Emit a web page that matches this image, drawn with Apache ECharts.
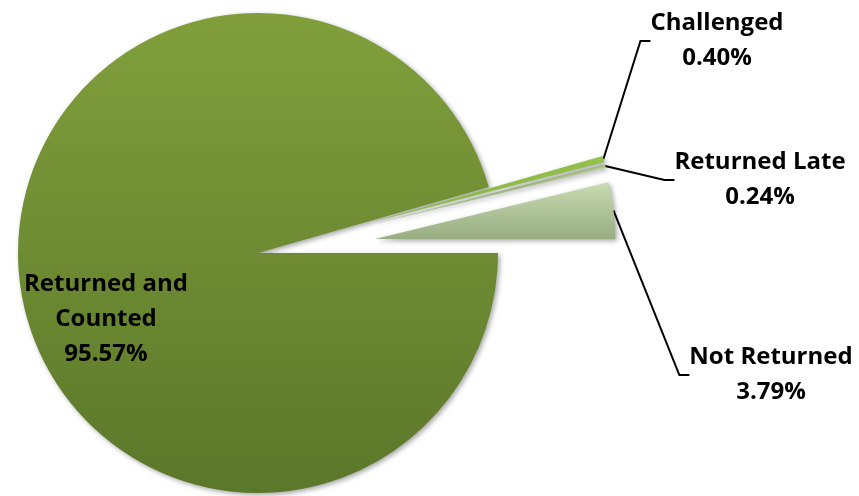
<!DOCTYPE html>
<html><head><meta charset="utf-8">
<script src="https://cdn.jsdelivr.net/npm/echarts@6/dist/echarts.min.js"></script>
<style>html,body{margin:0;padding:0;background:#fff}#c{width:859px;height:496px}</style>
</head><body><div id="c"></div>
<script>
var categories = ['Not Returned', 'Returned Late', 'Challenged', 'Returned and Counted'];
var values = [3.79, 0.24, 0.40, 95.57];
var exploded = [true, true, true, false];

var fills = [
  {type:'linear',x:0,y:0,x2:0,y2:1,colorStops:[{offset:0,color:'#c9dbb0'},{offset:1,color:'#98ad82'}]},
  {type:'linear',x:0,y:0,x2:0,y2:1,colorStops:[{offset:0,color:'#bcd69a'},{offset:1,color:'#a6c484'}]},
  {type:'linear',x:0,y:0,x2:0,y2:1,colorStops:[{offset:0,color:'#93c14a'},{offset:1,color:'#86b442'}]},
  {type:'linear',x:0,y:0,x2:0,y2:1,colorStops:[{offset:0,color:'#809f3b'},{offset:1,color:'#5b772a'}]}
];
var labelPos = [[771,375],[760,180],[717,41],[106,319]];

var baseCenter = [258, 253];
var explodeDist = 118;
var total = values.reduce(function(a,b){return a+b;}, 0);

function fmt(p){
  var name = p.dataIndex === 3 ? 'Returned and\nCounted' : p.name;
  return name + '\n' + p.value.toFixed(2) + '%';
}

var series = [];
var cum = 0;
categories.forEach(function(cat, k){
  var mid = (cum + values[k] / 2) / total * 2 * Math.PI;
  cum += values[k];
  var d = exploded[k] ? explodeDist : 0;
  var center = [baseCenter[0] + d * Math.cos(mid), baseCenter[1] - d * Math.sin(mid)];
  series.push({
    type: 'pie',
    center: center,
    radius: 240,
    startAngle: 0,
    clockwise: false,
    avoidLabelOverlap: false,
    emphasis: {disabled: true},
    z: k === 3 ? 2 : 3,
    label: {
      show: true,
      formatter: fmt,
      fontFamily: 'Open Sans',
      fontWeight: 'bold',
      fontSize: 24,
      lineHeight: 35,
      color: '#000',
      align: 'center'
    },
    labelLine: {show: true, length: 20, length2: 10, lineStyle: {color: '#000', width: 2}},
    labelLayout: function(p){
      var q = labelPos[p.dataIndex];
      return {x: q[0], y: q[1], align: 'center', verticalAlign: 'middle'};
    },
    data: categories.map(function(n, i){
      var vis = i === k;
      return {
        name: n, value: values[i],
        itemStyle: vis
          ? {color: fills[i], shadowBlur: 5, shadowColor: 'rgba(0,0,0,0.35)', shadowOffsetX: 2, shadowOffsetY: 2}
          : {color: 'rgba(0,0,0,0)'},
        label: vis ? {position: i === 3 ? 'inside' : 'outside'} : {show: false},
        labelLine: {show: vis && i !== 3}
      };
    })
  });
});

var chart = echarts.init(document.getElementById('c'), null, {renderer:'canvas'});
chart.setOption({animation: false, series: series});
</script></body></html>
